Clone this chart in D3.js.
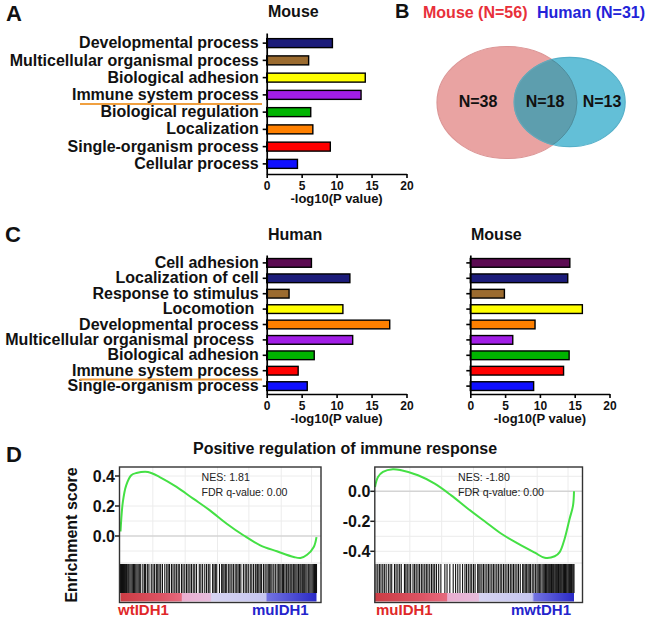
<!DOCTYPE html>
<html><head><meta charset="utf-8">
<script src="https://cdn.jsdelivr.net/npm/d3@7"></script>
<style>
body{margin:0;background:#fff;}
svg text{font-family:"Liberation Sans",Arial,Helvetica,sans-serif;}
</style></head><body>
<svg id="fig" width="646" height="619"></svg>
<script>
// ---------- DATA ----------
const aCategories = ["Developmental process","Multicellular organismal process","Biological adhesion","Immune system process","Biological regulation","Localization","Single-organism process","Cellular process"];
const aMouseValues = [9.4,6.0,14.1,13.5,6.3,6.6,9.1,4.4];
const aColors = ["#1c1c7a","#9b6b2f","#ffff00","#a21ee6","#00b400","#ff8000","#ff0000","#1010ff"];

const cCategories = ["Cell adhesion","Localization of cell","Response to stimulus","Locomotion\u00a0","Developmental process","Multicellular organismal process\u00a0","Biological adhesion","Immune system process","Single-organism process"];
const cHumanValues = [6.4,11.9,3.2,10.9,17.6,12.3,6.8,4.5,5.8];
const cMouseValues = [14.3,14.0,4.9,16.1,9.3,6.1,14.2,13.4,9.1];
const cColors = ["#5c0b52","#1c1c7a","#9b6b2f","#ffff00","#ff8000","#a21ee6","#00b400","#ff0000","#1010ff"];

const xTickValues = [0,5,10,15,20];
const xAxisTitle = "-log10(P value)";

const vennSetTitles = ["Mouse (N=56)","Human (N=31)"];
const vennCounts = ["N=38","N=18","N=13"];

const gseaTitle = "Positive regulation of immune response";
const gseaLeftRank = [0,12,29,55,81,140,200,286,371,456,542,627,713,798,884,918,952,986,1000];
const gseaLeftES = [0.03,0.227,0.338,0.405,0.42,0.427,0.393,0.327,0.249,0.171,0.082,0.005,-0.062,-0.102,-0.14,-0.147,-0.125,-0.073,-0.007];
const gseaRightRank = [0,15,40,90,132,216,300,383,467,551,635,719,803,853,903,928,953,978,995,1000];
const gseaRightES = [0.029,0.095,0.129,0.147,0.14,0.107,0.051,-0.027,-0.116,-0.2,-0.283,-0.349,-0.409,-0.443,-0.433,-0.405,-0.316,-0.183,-0.096,0.0];
const gseaLeftHits = [0,5,10,15,20,25,31,37,42,48,54,60,66,72,78,84,90,96,103,114,122,128,137,145,157,166,174,183,190,197,205,214,226,236,243,250,260,268,277,285,294,300,311,319,328,337,345,354,362,371,379,388,402,410,419,430,439,448,456,470,477,484,491,505,516,522,528,535,542,552,559,568,576,585,593,600,607,614,627,636,644,652,662,670,679,688,696,700,706,713,720,730,738,747,754,761,767,773,782,790,799,807,813,819,826,832,839,846,850,858,865,870,875,882,889,895,901,908,915,920,926,930,935,940,946,952,960,966,972,978,984,990,995,1000];
const gseaRightHits = [5,14,22,30,39,47,56,67,76,84,98,106,115,124,132,148,155,162,171,179,191,199,207,216,224,233,241,250,258,266,275,284,292,300,309,320,331,351,362,376,393,405,416,427,440,452,460,469,478,486,495,503,516,522,528,537,545,553,562,570,578,587,595,603,612,620,629,637,646,654,663,671,680,688,696,704,713,721,730,742,748,755,762,769,775,781,790,798,806,814,820,826,833,840,848,853,857,861,865,870,874,878,883,887,891,896,900,905,909,913,918,922,926,931,935,939,944,948,952,957,961,965,970,974,978,983,987,991,996,1000];
const gseaLeftTicks = [0.4,0.2,0.0];
const gseaLeftTickLabels = ["0.4","0.2","0.0"];
const gseaRightTicks = [0.0,-0.2,-0.4];
const gseaRightTickLabels = ["0.0","-0.2","-0.4"];
const gseaLeftStats = ["NES: 1.81","FDR q-value: 0.00"];
const gseaRightStats = ["NES: -1.80","FDR q-value: 0.00"];
const gseaLeftPhenos = ["wtIDH1","muIDH1"];
const gseaRightPhenos = ["muIDH1","mwtDH1"];

// ---------- DRAW ----------
const svg = d3.select("#fig");
const FONT = '"Liberation Sans",Arial,Helvetica,sans-serif';
const defs = svg.append("defs");

function label(x, y, txt, size, opts={}) {
  return svg.append("text").attr("x", x).attr("y", y).text(txt)
    .attr("font-size", size).attr("font-weight", opts.weight || "bold")
    .attr("fill", opts.fill || "#111").attr("text-anchor", opts.anchor || "start");
}

function barChart(x0, x1, yTop, yBot, cats, vals, cols, showLabels, pIn, pOut) {
  const g = svg.append("g");
  const x = d3.scaleLinear().domain([0,20]).range([x0,x1]);
  const y = d3.scaleBand().domain(cats).range([yTop,yBot]).paddingInner(pIn).paddingOuter(pOut);
  g.selectAll("rect").data(cats).join("rect")
    .attr("x", x(0)).attr("y", d => y(d))
    .attr("width", (d,i) => x(vals[i]) - x(0))
    .attr("height", y.bandwidth())
    .attr("fill", (d,i) => cols[i])
    .attr("stroke", "#000").attr("stroke-width", 1.4);
  const xa = g.append("g").attr("transform", `translate(0,${yBot})`)
    .call(d3.axisBottom(x).tickValues(xTickValues).tickSize(4).tickSizeOuter(0).tickPadding(3));
  const ya = g.append("g").attr("transform", `translate(${x0},0)`)
    .call(d3.axisLeft(y).tickSize(4).tickSizeOuter(0).tickPadding(4).tickFormat(showLabels ? (d => d) : () => ""));
  [xa, ya].forEach(a => {
    a.attr("font-family", FONT);
    a.select(".domain").attr("stroke", "#000").attr("stroke-width", 1.7);
    a.selectAll(".tick line").attr("stroke", "#000").attr("stroke-width", 1.6);
    a.selectAll("text").attr("font-weight", "bold").attr("fill", "#111");
  });
  xa.selectAll("text").attr("font-size", 12);
  ya.selectAll("text").attr("font-size", 16);
  g.append("text").attr("x", (x0+x1)/2).attr("y", yBot + 29).attr("text-anchor","middle")
    .attr("font-size", 13).attr("font-weight","bold").attr("fill","#111").text(xAxisTitle);
  return {x, y};
}

// Panel letters
label(6, 21, "A", 22);
label(395, 17.5, "B", 20);
label(5, 242, "C", 22);
label(6, 462, "D", 22);

// Panel A
label(268, 16.5, "Mouse", 16);
barChart(266.7, 406.5, 33, 174, aCategories, aMouseValues, aColors, true, 0.48, 0.327);
svg.append("line").attr("x1", 80).attr("x2", 262).attr("y1", 104).attr("y2", 104)
  .attr("stroke", "#f0a040").attr("stroke-width", 2.2);

// Panel B - Venn
label(423, 17.5, vennSetTitles[0], 16, {fill: "#e8303a"});
label(537, 17.5, vennSetTitles[1], 16, {fill: "#2323d8"});
const red = {cx:507, cy:102.5, rx:70, ry:56};
const blue = {cx:569.7, cy:102, rx:55.5, ry:44.7};
defs.append("clipPath").attr("id","clipRed").append("ellipse")
  .attr("cx",red.cx).attr("cy",red.cy).attr("rx",red.rx).attr("ry",red.ry);
defs.append("clipPath").attr("id","clipBlue").append("ellipse")
  .attr("cx",blue.cx).attr("cy",blue.cy).attr("rx",blue.rx).attr("ry",blue.ry);
svg.append("ellipse").attr("cx",red.cx).attr("cy",red.cy).attr("rx",red.rx).attr("ry",red.ry)
  .attr("fill","#e9a3a2").attr("stroke","#dc9696").attr("stroke-width",1.2);
svg.append("ellipse").attr("cx",blue.cx).attr("cy",blue.cy).attr("rx",blue.rx).attr("ry",blue.ry)
  .attr("fill","#63bfd7").attr("stroke","#55b0c9").attr("stroke-width",1.2);
svg.append("ellipse").attr("cx",blue.cx).attr("cy",blue.cy).attr("rx",blue.rx).attr("ry",blue.ry)
  .attr("clip-path","url(#clipRed)").attr("fill","#5d9eae").attr("stroke","#6aa6b5").attr("stroke-width",1.2);
svg.append("ellipse").attr("cx",red.cx).attr("cy",red.cy).attr("rx",red.rx).attr("ry",red.ry)
  .attr("clip-path","url(#clipBlue)").attr("fill","none").attr("stroke","#4f8d9c").attr("stroke-width",1);
label(478, 106.5, vennCounts[0], 16, {anchor:"middle"});
label(545, 106.5, vennCounts[1], 16, {anchor:"middle"});
label(602, 106.5, vennCounts[2], 16, {anchor:"middle"});

// Panel C
label(268, 239.5, "Human", 16);
label(471, 239.5, "Mouse", 16);
barChart(266.7, 406.5, 255, 394, cCategories, cHumanValues, cColors, true, 0.435, 0.23);
barChart(470.3, 609.5, 255, 394, cCategories, cMouseValues, cColors, false, 0.435, 0.23);
svg.append("line").attr("x1", 80).attr("x2", 262).attr("y1", 379.5).attr("y2", 379.5)
  .attr("stroke", "#f0a040").attr("stroke-width", 2.2);

// Panel D - GSEA
label(193, 454, gseaTitle, 16);
svg.append("text").attr("transform","translate(77,535) rotate(-90)").attr("text-anchor","middle")
  .attr("font-size",16).attr("font-weight","bold").attr("fill","#111").text("Enrichment score");

function gradient(id, stops) {
  const lg = defs.append("linearGradient").attr("id", id).attr("x1","0").attr("x2","1").attr("y1","0").attr("y2","0");
  stops.forEach(s => lg.append("stop").attr("offset", s[0]).attr("stop-color", s[1]));
}
gradient("gradL", [[0,"#cc3c44"],[0.2,"#dc5262"],[0.31,"#e56a7e"],[0.315,"#eaaed0"],[0.46,"#e6bcdc"],[0.465,"#d6d4f2"],[0.74,"#c6c6f0"],[0.75,"#7272e2"],[1,"#2a2ac6"]]);
gradient("gradR", [[0,"#cc3c44"],[0.22,"#dc5262"],[0.36,"#e56a7e"],[0.365,"#eaaed0"],[0.52,"#e6bcdc"],[0.525,"#d6d4f2"],[0.79,"#c6c6f0"],[0.8,"#7272e2"],[1,"#2a2ac6"]]);

function gsea(cfg) {
  const g = svg.append("g");
  const x = d3.scaleLinear().domain([0,1000]).range([cfg.bx0, cfg.bx1]);
  const y = d3.scaleLinear().domain(cfg.yDom).range(cfg.yRng);
  const top = 467, esBot = 563, barBot = 593, cbBot = 601.5, boxBot = 602.5;
  cfg.vgrid.forEach(r => g.append("line").attr("x1", x(r)).attr("x2", x(r)).attr("y1", top).attr("y2", esBot)
    .attr("stroke", "#ececec").attr("stroke-width", 1));
  cfg.hgrid.forEach(v => g.append("line").attr("x1", cfg.boxL).attr("x2", cfg.boxR).attr("y1", y(v)).attr("y2", y(v))
    .attr("stroke", v === 0 ? "#d4d4d4" : "#ececec").attr("stroke-width", v === 0 ? 1.6 : 1));
  g.append("line").attr("x1", cfg.boxL).attr("x2", cfg.boxR).attr("y1", esBot).attr("y2", esBot)
    .attr("stroke", "#e4e4e4").attr("stroke-width", 1);
  g.selectAll("line.hit").data(cfg.hits).join("line").attr("class","hit")
    .attr("x1", d => x(d)).attr("x2", d => x(d)).attr("y1", esBot + 1).attr("y2", barBot)
    .attr("stroke", "#111").attr("stroke-width", 1.1);
  g.append("rect").attr("x", x(0)).attr("y", barBot).attr("width", x(1000) - x(0)).attr("height", cbBot - barBot)
    .attr("fill", `url(#${cfg.grad})`);
  const pts = cfg.rank.map((r,i) => [x(r), y(cfg.es[i])]);
  g.append("path").attr("d", d3.line().curve(d3.curveCatmullRom.alpha(0.5))(pts))
    .attr("fill","none").attr("stroke","#44e044").attr("stroke-width",2);
  g.append("rect").attr("x", cfg.boxL).attr("y", top).attr("width", cfg.boxR - cfg.boxL).attr("height", boxBot - top)
    .attr("fill","none").attr("stroke","#333").attr("stroke-width",1.4);
  cfg.ticks.forEach((t,i) => {
    g.append("line").attr("x1", cfg.boxL - 4.5).attr("x2", cfg.boxL).attr("y1", y(t)).attr("y2", y(t))
      .attr("stroke","#222").attr("stroke-width",1.5);
    g.append("text").attr("x", cfg.boxL - 4.5).attr("y", y(t)).attr("dy","0.35em").attr("text-anchor","end")
      .attr("font-size",16).attr("font-weight","bold").attr("fill","#111").text(cfg.tickLabels[i]);
  });
  cfg.stats.forEach((s,i) => g.append("text").attr("x", cfg.statX).attr("y", 481 + i*14.5)
    .attr("font-size",10.6).attr("fill","#222").text(s));
  g.append("text").attr("x", cfg.ph[0]).attr("y", 615).attr("font-size",15).attr("font-weight","bold")
    .attr("fill","#e02828").text(cfg.phenos[0]);
  g.append("text").attr("x", cfg.ph[1]).attr("y", 615).attr("font-size",15).attr("font-weight","bold")
    .attr("fill","#2424cc").text(cfg.phenos[1]);
}

gsea({bx0:120.5, bx1:316.5, boxL:119.5, boxR:321, yDom:[0,0.4], yRng:[536,476],
  rank:gseaLeftRank, es:gseaLeftES, hits:gseaLeftHits, grad:"gradL",
  ticks:gseaLeftTicks, tickLabels:gseaLeftTickLabels, stats:gseaLeftStats, statX:201.5,
  phenos:gseaLeftPhenos, ph:[118,252],
  vgrid:[165,330,495,655,820,975], hgrid:[0.4,0.2,0.1,0,-0.1]});
gsea({bx0:375, bx1:574, boxL:374.8, boxR:582.5, yDom:[-0.4,0], yRng:[551.3,491.3],
  rank:gseaRightRank, es:gseaRightES, hits:gseaRightHits, grad:"gradR",
  ticks:gseaRightTicks, tickLabels:gseaRightTickLabels, stats:gseaRightStats, statX:458,
  phenos:gseaRightPhenos, ph:[376,511],
  vgrid:[175,335,495,655,815,970], hgrid:[0.1,0,-0.2,-0.3,-0.4]});
</script>
</body></html>
